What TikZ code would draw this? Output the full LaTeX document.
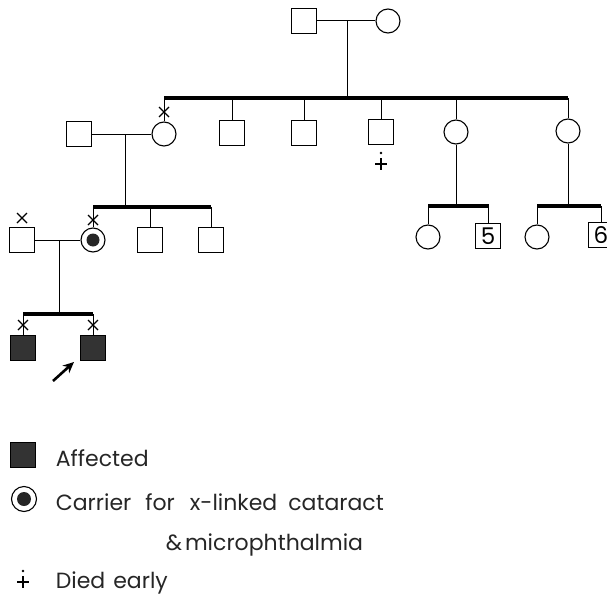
\documentclass[tikz,border=0pt]{standalone}
\usepackage{fontspec}
\setmainfont{Poppins}
\usetikzlibrary{arrows.meta}
\begin{document}
\begin{tikzpicture}[x=1pt,y=-1pt,
  line width=1pt,
  male/.style={draw, rectangle, minimum size=25pt, inner sep=0pt, line width=1.1pt},
  female/.style={draw, circle, minimum size=24pt, inner sep=0pt, line width=1.1pt},
  affected/.style={male, fill=black!80},
  carrier/.style={female, path picture={\fill[black!85] (path picture bounding box.center) circle (6.5pt);}},
  sib/.style={line width=3.5pt},
  numtext/.style={font=\fontsize{23}{23}\selectfont},
  legend/.style={anchor=base west, font=\fontsize{22}{24}\selectfont, text=black!85},
  xmark/.pic={\draw[line width=1.1pt] (-5,-5)--(5,5) (-5,5)--(5,-5);},
  died/.pic={\fill (0,0) circle (1.4pt); \draw[line width=2.4pt] (-6,11)--(6,11) (0,5)--(0,17);}
]
\useasboundingbox (0,0) rectangle (607,599);

% Generation I
\node[male] (m1) at (304,21) {};
\node[female] (f1) at (388,21) {};
\draw (m1) -- (f1);
\coordinate (c1) at (347,21);
\coordinate (s1a) at (164,98);
\coordinate (s1b) at (568,98);
\draw (c1) -- (c1 |- s1a);
\draw[sib] (s1a) -- (s1b);

% Generation II
\node[female] (f2) at (164,134) {};
\node[male] (m2) at (232,133) {};
\node[male] (m3) at (304,133) {};
\node[male] (m4) at (381,132) {};
\node[female] (f3) at (456,132) {};
\node[female] (f4) at (568,131) {};
\foreach \n in {f2,m2,m3,m4,f3,f4} \draw (\n.north) -- (\n.north |- s1a);
\pic at (164,112) {xmark};
\pic at (381,153) {died};

\node[male] (m5) at (79,134) {};
\draw (m5) -- (f2);
\coordinate (c2) at (125,134);
\coordinate (s2a) at (93,207);
\coordinate (s2b) at (211,207);
\draw (c2) -- (c2 |- s2a);
\draw[sib] (s2a) -- (s2b);

% Generation III (left)
\node[carrier] (f5) at (93,240) {};
\node[male] (m6) at (150,240) {};
\node[male] (m7) at (211,240) {};
\foreach \n in {f5,m6,m7} \draw (\n.north) -- (\n.north |- s2a);
\pic at (93,220) {xmark};
\node[male] (m8) at (22,240) {};
\pic at (22,218) {xmark};
\draw (m8) -- (f5);
\coordinate (c3) at (59,240);
\coordinate (s3a) at (23,314);
\coordinate (s3b) at (93,314);
\draw (c3) -- (c3 |- s3a);
\draw[sib] (s3a) -- (s3b);

% Generation IV
\node[affected] (a1) at (23,348) {};
\node[affected] (a2) at (93,348) {};
\foreach \n in {a1,a2} \draw (\n.north) -- (\n.north |- s3a);
\pic at (23,325) {xmark};
\pic at (93,325) {xmark};
\coordinate (p0) at (53,381);
\coordinate (p1) at (74,362);
\draw[line width=2.6pt, -{Stealth[length=11pt,width=10pt]}] (p0) -- (p1);

% Generation III (right)
\coordinate (s4a) at (428,206);
\coordinate (s4b) at (489,206);
\draw (f3.south) -- (f3.south |- s4a);
\draw[sib] (s4a) -- (s4b);
\node[female] (f6) at (428,237) {};
\node[male, numtext] (m9) at (488,236) {5};
\foreach \n in {f6,m9} \draw (\n.north) -- (\n.north |- s4a);

\coordinate (s5a) at (537,206);
\coordinate (s5b) at (601,206);
\draw (f4.south) -- (f4.south |- s5a);
\draw[sib] (s5a) -- (s5b);
\node[female] (f7) at (537,237) {};
\node[male, numtext] (m10) at (601,235) {6};
\foreach \n in {f7,m10} \draw (\n.north) -- (\n.north |- s5a);

% Legend
\node[affected] (la) at (23,455) {};
\node[legend] (ta) at (52,466) {Affected};
\node[female, minimum size=25pt] (lc) at (24,499) {};
\fill[black!85] (lc.center) circle (7pt);
\node[legend] (tc) at (52,510) {Carrier\hspace{14pt}for\hspace{15pt}x-linked\hspace{11pt}cataract};
\node[legend] (tc2) at (162,550) {\&\hspace{3pt}microphthalmia};
\pic at (23,571) {died};
\node[legend] (td) at (52,588) {Died\hspace{8pt}early};
\end{tikzpicture}
\end{document}
